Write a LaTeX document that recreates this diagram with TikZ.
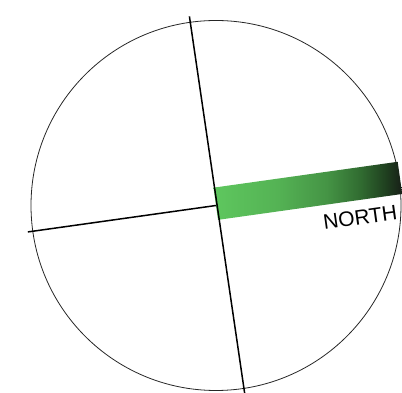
\documentclass[tikz,border=0pt]{standalone}
\usepackage{fontspec}
\setsansfont{Liberation Sans}
\usepackage{tikz}
% stops 25bp..75bp span the bar
\pgfdeclarehorizontalshading{northbar}{100bp}{%
  rgb(0bp)=(0.37,0.78,0.37); rgb(25bp)=(0.37,0.78,0.37);
  rgb(42bp)=(0.33,0.70,0.33); rgb(55bp)=(0.27,0.58,0.27);
  rgb(64bp)=(0.19,0.42,0.19); rgb(71bp)=(0.12,0.24,0.12);
  rgb(75bp)=(0.09,0.12,0.09); rgb(100bp)=(0.09,0.12,0.09)}
\tikzset{
  rim/.style={draw=black!85, line width=0.8pt},
  axis/.style={draw=black, line width=1.5pt},
  bar/.style={shading=northbar},
  lbl/.style={font=\sffamily\fontsize{21}{21}\selectfont, inner sep=0pt, rotate=8},
}
\begin{document}
\begin{tikzpicture}[x=1pt, y=1pt]
\useasboundingbox (0,0) rectangle (402,393);
\coordinate (c) at (216,187.5);
\draw[rim] (c) circle (185);
\begin{scope}[shift={(c)}, rotate=8]
  \coordinate (top)  at (0,191);
  \coordinate (west) at (-190,0);
  \shade[bar] (0,-14.5) rectangle (186,18);
  \draw[axis] (west) -- (0,0);
  \node[lbl] (north) at (141,-32) {NORTH};
\end{scope}
\coordinate (bot) at (245.5,-6);
\draw[axis] (top) -- (bot);
\end{tikzpicture}
\end{document}
